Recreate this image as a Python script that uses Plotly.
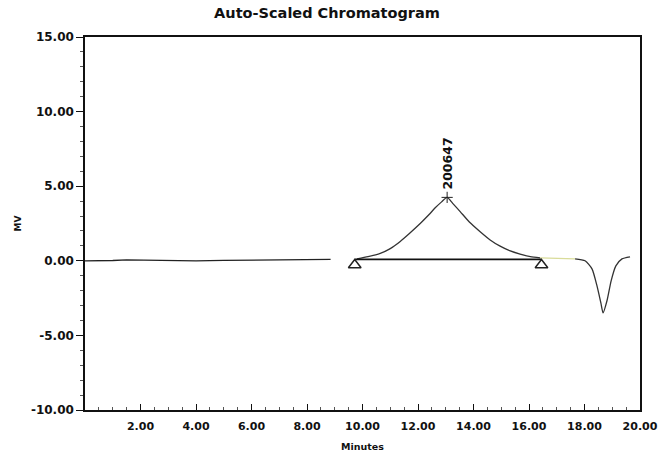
import plotly.graph_objects as go

# Detector trace (minutes, mV)
base_x = [0.0, 0.5, 1.0, 1.5, 2.0, 3.0, 4.0, 5.0, 6.0, 7.0, 8.0, 8.85]
base_y = [0.0, 0.0, 0.02, 0.06, 0.04, 0.02, 0.0, 0.03, 0.06, 0.08, 0.1, 0.1]

peak_x = [9.8, 10.2, 10.64, 11.0, 11.36, 11.7, 12.08, 12.4, 12.62, 12.85, 13.05,
          13.25, 13.52, 13.85, 14.24, 14.6, 14.96, 15.3, 15.68, 16.05, 16.4]
peak_y = [0.13, 0.28, 0.5, 0.82, 1.3, 1.85, 2.5, 3.1, 3.55, 3.95, 4.25,
          3.85, 3.3, 2.6, 1.95, 1.4, 0.98, 0.68, 0.45, 0.28, 0.2]

tail_x = [16.4, 17.0, 17.66]
tail_y = [0.2, 0.18, 0.13]

dip_x = [17.66, 18.02, 18.27, 18.45, 18.59, 18.67, 18.81, 18.96, 19.13, 19.35, 19.64]
dip_y = [0.13, 0.0, -0.54, -1.68, -2.82, -3.49, -2.68, -1.34, -0.34, 0.13, 0.27]

# Integration baseline and peak start/stop markers
baseline_x = [9.72, 16.45]
baseline_y = [0.1, 0.1]
marker_x = [9.72, 16.45]
marker_y = [-0.28, -0.28]

peak_rt = 13.05
peak_top = 4.25
peak_label = "200647"

x_ticks = [2, 4, 6, 8, 10, 12, 14, 16, 18, 20]
x_labels = ["2.00", "4.00", "6.00", "8.00", "10.00", "12.00", "14.00", "16.00", "18.00", "20.00"]
y_ticks = [15, 10, 5, 0, -5, -10]
y_labels = ["15.00", "10.00", "5.00", "0.00", "-5.00", "-10.00"]

FONT = "DejaVu Sans"
INK = "#111111"
fig = go.Figure()

fig.add_trace(go.Scatter(x=base_x, y=base_y, mode="lines", line=dict(color="#222222", width=1.3), hoverinfo="skip"))
fig.add_trace(go.Scatter(x=peak_x, y=peak_y, mode="lines",
                         line=dict(color="#333333", width=1.3, shape="spline", smoothing=0.6), hoverinfo="skip"))
fig.add_trace(go.Scatter(x=tail_x, y=tail_y, mode="lines", line=dict(color="#d9dc9a", width=1.3), hoverinfo="skip"))
fig.add_trace(go.Scatter(x=dip_x, y=dip_y, mode="lines",
                         line=dict(color="#333333", width=1.3, shape="spline", smoothing=0.6), hoverinfo="skip"))
fig.add_trace(go.Scatter(x=baseline_x, y=baseline_y, mode="lines", line=dict(color=INK, width=1.8), hoverinfo="skip"))
fig.add_trace(go.Scatter(x=marker_x, y=marker_y, mode="markers",
                         marker=dict(symbol="triangle-up-open", size=11, color="#222222", line=dict(width=1.5, color="#222222")),
                         hoverinfo="skip"))
# apex tick mark
fig.add_trace(go.Scatter(x=[peak_rt], y=[peak_top], mode="markers",
                         marker=dict(symbol="cross-thin-open", size=8, color="#222222", line=dict(width=1, color="#222222")),
                         hoverinfo="skip"))

fig.add_annotation(x=peak_rt, y=peak_top, text="<b>%s</b>" % peak_label, textangle=-90, showarrow=False,
                   yanchor="bottom", yshift=6, font=dict(family=FONT, size=12.5, color=INK))

fig.update_layout(
    width=658, height=454,
    margin=dict(l=85, r=18, t=37, b=44),
    paper_bgcolor="white", plot_bgcolor="white",
    showlegend=False,
    title=dict(text="<b>Auto-Scaled Chromatogram</b>", x=0.497, xanchor="center", y=0.972, yanchor="middle",
               font=dict(family=FONT, size=14.5, color=INK)),
    xaxis=dict(range=[0, 20], showgrid=False, zeroline=False, automargin=False,
               showline=True, linecolor=INK, linewidth=1.5, mirror=True,
               tickmode="array", tickvals=x_ticks, ticktext=["<b>%s</b>" % t for t in x_labels],
               ticks="inside", ticklen=6, tickcolor=INK,
               minor=dict(dtick=0.5, ticks="inside", ticklen=3, tickcolor="#555555"),
               ticklabelstandoff=5,
               tickfont=dict(family=FONT, size=11, color=INK),
               title=dict(text="<b>Minutes</b>", font=dict(family=FONT, size=9.5, color=INK), standoff=11)),
    yaxis=dict(range=[-10, 15], showgrid=False, zeroline=False, automargin=False,
               showline=True, linecolor=INK, linewidth=1.5, mirror=True,
               tickmode="array", tickvals=y_ticks, ticktext=["<b>%s</b>" % t for t in y_labels],
               ticks="outside", ticklen=7, tickcolor=INK,
               minor=dict(dtick=1, ticks="outside", ticklen=3, tickcolor="#555555"),
               tickfont=dict(family=FONT, size=12, color=INK),
               title=dict(text="<b>MV</b>", font=dict(family=FONT, size=9, color=INK), standoff=8)),
)

fig.write_html("out.html")
